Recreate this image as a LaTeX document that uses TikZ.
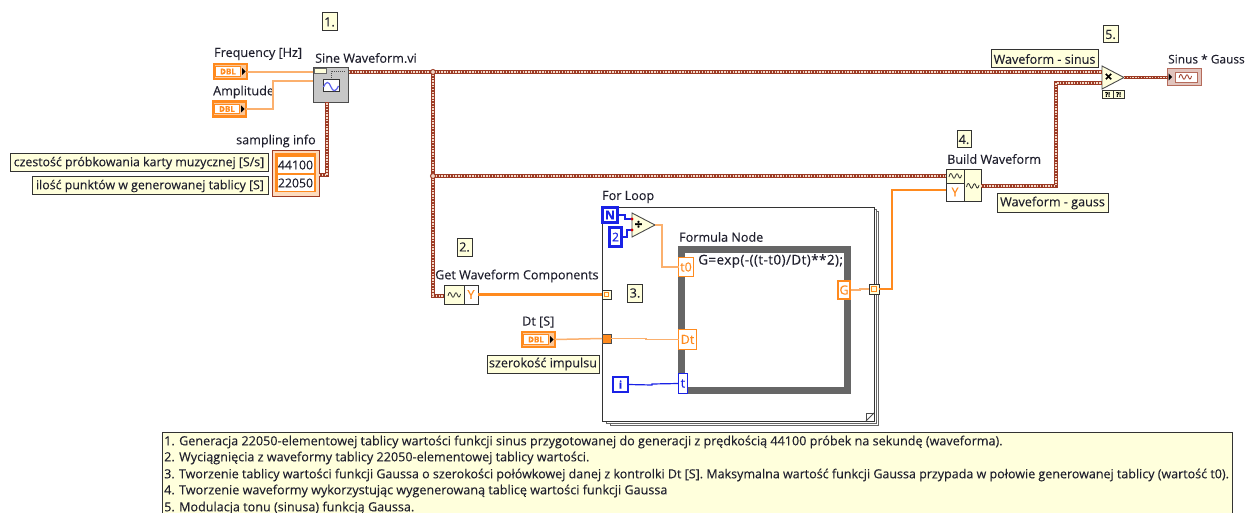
\documentclass[tikz,border=0pt]{standalone}
\usepackage{fontspec}
\setmainfont{Open Sans}[FakeBold=0.12]
\definecolor{txt}{HTML}{20202E}
\definecolor{orng}{HTML}{FF8A1E}
\definecolor{orngl}{HTML}{FBB06E}
\definecolor{wbrown}{HTML}{9C3A24}
\definecolor{wlight}{HTML}{F3D9C8}
\definecolor{blu}{HTML}{1A22E6}
\definecolor{note}{HTML}{FFFFDC}
\definecolor{edgeb}{HTML}{333333}
\tikzset{
  lab/.style={anchor=west,inner sep=0pt,text=txt,font=\fontsize{12.6}{14}\selectfont},
  yel/.style={draw=edgeb,line width=1pt,fill=note,text=txt,inner sep=0pt,outer sep=0pt,anchor=center,font=\fontsize{12.6}{14}\selectfont},
  yelnarrow/.style={yel,font=\fontsize{12.35}{14}\selectfont},
  oterm/.style={draw=orng,line width=1.4pt,fill=white,text=orng,inner sep=0pt,outer sep=0pt,anchor=center,font=\fontsize{12.5}{14}\selectfont},
  bterm/.style={draw=blu,line width=2.2pt,fill=white,text=blu,inner sep=0pt,outer sep=0pt,anchor=center,font=\bfseries\fontsize{12}{14}\selectfont},
  fnbox/.style={draw=edgeb,line width=.9pt,fill=note,inner sep=0pt,outer sep=0pt,anchor=center},
  wfm/.style={draw=wbrown,line width=3.6pt,postaction={draw=wlight,line width=1.3pt,dash pattern=on 1.4pt off 1.4pt}},
  othin/.style={draw=orngl,line width=1.5pt},
  othick/.style={draw=orng,line width=2.3pt},
  bthin/.style={draw=blu,line width=1.2pt},
  junc/.style={circle,draw=wbrown,line width=1pt,fill=wlight,minimum size=5pt,inner sep=0pt},
  wavey/.style={draw=#1,line width=.8pt,line join=round},
  fmframe/.style={draw=black!75,line width=1pt,fill=white},
  cellval/.style={fill=white,text=txt,inner sep=0pt,minimum width=36pt,minimum height=16pt,font=\fontsize{12.3}{14}\selectfont},
}
\newcommand{\dblctl}[3]{%
  \node[draw=orng,fill=orngl!70,line width=2.4pt,minimum width=33pt,minimum height=15pt,inner sep=0pt,outer sep=0pt] (#1) at (#2,#3) {};
  \node[draw=orng,fill=white,line width=1pt,minimum width=25pt,minimum height=9.5pt,inner sep=0pt,text=orng,font=\bfseries\fontsize{8}{9}\selectfont] at (#2-2.5,#3) {DBL};
  \fill[black] (#2+11.5,#3-3.5) -- (#2+15,#3) -- (#2+11.5,#3+3.5) -- cycle;
}
\newcommand{\wavesym}[3]{% x,y,colour
  \draw[wavey=#3] (#1-6,#2+1) .. controls (#1-5,#2-4) and (#1-3.5,#2-3) .. (#1-2.5,#2) .. controls (#1-1.5,#2+3) and (#1-.5,#2+3) .. (#1+.5,#2) .. controls (#1+1.5,#2-3) and (#1+2.5,#2-3) .. (#1+3.5,#2) .. controls (#1+4.5,#2+3) and (#1+5.5,#2+3) .. (#1+6.5,#2-1);
}
\begin{document}
\begin{tikzpicture}[x=1pt,y=-1pt]
\clip (0,0) rectangle (1252,513);
\fill[white] (0,0) rectangle (1252,513);

% For Loop frames
\draw[fmframe,draw=black!60] (610,211) rectangle (878,425);
\draw[fmframe,draw=black!60] (606,209) rectangle (876,423);
\node[draw=black!80,line width=1pt,fill=white,inner sep=0pt,outer sep=0pt,minimum width=272pt,minimum height=214pt,anchor=north west] (loop) at (602,207) {};
\draw[black!70,line width=.8pt] (874,413) -- (866,413) -- (866,421);
\draw[black!70,line width=.8pt] (866,421) -- (874,413);
\node[lab] (looplab) at (602,197) {For Loop};

% Formula Node
\node[draw=black!60,line width=7pt,fill=white,inner sep=0pt,outer sep=0pt,minimum width=166pt,minimum height=141pt,anchor=north west] (fnode) at (681.5,249.5) {};
\node[lab] (fnlab) at (679,237) {Formula Node};
\node[lab,font=\fontsize{13.5}{14}\selectfont\addfontfeature{LetterSpace=3}] (formula) at (698,261) {G=exp(-((t-t0)/Dt)**2);};

% Text labels and notes
\node[yel,minimum width=15pt,minimum height=18pt] (n1) at (329.5,22) {1.};
\node[yel,minimum width=15pt,minimum height=18pt] (n2) at (464.5,247) {2.};
\node[yel,minimum width=15pt,minimum height=18pt] (n3) at (635,293) {3.};
\node[yel,minimum width=14pt,minimum height=17pt] (n4) at (964,139.5) {4.};
\node[yel,minimum width=15pt,minimum height=17pt] (n5) at (1110.5,34.5) {5.};
\node[lab] (freqlab) at (214,54) {Frequency [Hz]};
\node[lab] (amplab) at (213,92) {Amplitude};
\node[lab] (sinelab) at (315,58) {Sine Waveform.vi};
\node[lab] (samplab) at (236,141) {sampling info};
\node[yelnarrow,minimum width=258pt,minimum height=18pt] (czest) at (139,163) {czestość próbkowania karty muzycznej [S/s]};
\node[yelnarrow,minimum width=236pt,minimum height=18pt] (ilosc) at (150,186) {ilość punktów w generowanej tablicy [S]};
\node[lab] (getlab) at (435,276) {Get Waveform Components};
\node[lab] (dtlab) at (522,322) {Dt [S]};
\node[yel,minimum width=112pt,minimum height=18pt] (szer) at (543,364) {szerokość impulsu};
\node[lab] (buildlab) at (947,159) {Build Waveform};
\node[yel,minimum width=111pt,minimum height=18pt] (wgauss) at (1052.5,203) {Waveform - gauss};
\node[yel,minimum width=107pt,minimum height=18pt] (wsinus) at (1044.5,59) {Waveform - sinus};
\node[lab,font=\fontsize{11.9}{14}\selectfont] (sgauss) at (1168,59) {Sinus * Gauss};

% Controls
\dblctl{freq}{230.5}{71.5}
\dblctl{amp}{229.5}{109}
\dblctl{dt}{538.5}{339.5}

% Sine Waveform VI
\node[draw=black!70,line width=1pt,fill=black!22,inner sep=0pt,outer sep=0pt,minimum width=35pt,minimum height=35pt,anchor=north west] (sine) at (313.5,67.5) {};
\fill[note,draw=black!60,line width=.5pt] (314.5,68.5) rectangle (326,73);
\draw[black!70,line width=.8pt,dash pattern=on 1pt off 1pt] (331,78) -- (331,71) -- (346,71);
\node[draw=black!80,fill=white,line width=1pt,minimum width=16pt,minimum height=12pt,inner sep=0pt] (sineicon) at (331,86) {};
\draw[blu!70,line width=1.2pt] (323.5,87) .. controls (326,81) and (329,81) .. (331,87) .. controls (333,92) and (336,92) .. (338.5,86);

% Sampling info cluster
\node[draw=wbrown,line width=.8pt,fill=orngl!45,inner sep=0pt,outer sep=0pt,minimum width=47pt,minimum height=46pt,anchor=north west] (samp) at (272,150) {};
\fill[orng] (275,153.5) rectangle (316,192.5);
\node[cellval] (v1) at (295.5,165) {44100};
\node[cellval] (v2) at (295.5,183) {22050};

% Get Waveform Components
\node[fnbox,minimum width=20pt,minimum height=19pt] (getw) at (454,294.5) {};
\node[draw=edgeb,line width=.9pt,fill=white,text=orng,inner sep=0pt,outer sep=0pt,minimum width=14pt,minimum height=19pt,font=\fontsize{12.5}{14}\selectfont] (gety) at (471,294.5) {Y};
\wavesym{454}{295}{black!80}

% For-loop terminals
\node[fnbox,minimum width=9pt,minimum height=9pt] (tunin) at (606.5,294.5) {};
\draw[orng,line width=.9pt] (604.5,292.5) rectangle (608.5,296.5);
\node[draw=black!70,line width=.8pt,fill=orng,inner sep=0pt,outer sep=0pt,minimum width=9pt,minimum height=9pt] (tundt) at (606.5,338.5) {};
\node[fnbox,minimum width=10pt,minimum height=10pt] (tunout) at (874,289) {};
\draw[orng,line width=.9pt] (871.5,286.5) rectangle (876.5,291.5);
\node[bterm,minimum width=15pt,minimum height=15pt] (nterm) at (610,215) {N};
\node[bterm,font=\fontsize{12}{14}\selectfont,minimum width=12pt,minimum height=19pt] (two) at (615.5,237) {2};
\node[bterm,minimum width=15pt,minimum height=15pt,font=\bfseries\fontsize{11}{13}\selectfont] (iterm) at (620.5,384.5) {i};

% Divide
\draw[draw=black!70,line width=.9pt,fill=note] (632,213) -- (655,225) -- (632,237) -- cycle;
\coordinate (divout) at (655,225);
\coordinate (diva) at (632,219);
\coordinate (divb) at (632,230);
\node[inner sep=0pt,text=black,font=\bfseries\fontsize{14}{15}\selectfont] (divsym) at (638.5,225) {÷};

% Formula terminals
\node[oterm,minimum width=15pt,minimum height=19pt] (t0) at (686,267) {t0};
\node[oterm,minimum width=18pt,minimum height=20pt] (dtin) at (687.5,339.5) {Dt};
\node[draw=blu,line width=1pt,fill=white,text=blu,inner sep=0pt,outer sep=0pt,minimum width=9pt,minimum height=20pt,font=\fontsize{12.5}{14}\selectfont] (tin) at (683,383.5) {t};
\node[draw=orng,line width=2pt,fill=white,text=orng,inner sep=0pt,outer sep=0pt,minimum width=12pt,minimum height=18pt,font=\fontsize{12.5}{14}\selectfont] (gout) at (844,290) {G};

% Build Waveform
\node[fnbox,minimum width=18pt,minimum height=14pt] (bw) at (955,176) {};
\node[draw=edgeb,line width=.9pt,fill=white,text=orng,inner sep=0pt,outer sep=0pt,minimum width=18pt,minimum height=18pt,font=\fontsize{12.5}{14}\selectfont] (by) at (955,192) {Y};
\node[fnbox,minimum width=17pt,minimum height=32pt] (bo) at (972.5,185) {};
\wavesym{955}{176}{black!80}
\wavesym{972.5}{186}{black!80}

% Multiply
\draw[draw=black!70,line width=.9pt,fill=note] (1102,66) -- (1124,77.5) -- (1102,89) -- cycle;
\coordinate (mulout) at (1124,77.5);
\coordinate (mula) at (1102,72);
\coordinate (mulb) at (1102,83);
\node[inner sep=0pt,text=black,font=\bfseries\fontsize{14}{15}\selectfont] (mulsym) at (1108.5,77.5) {×};
\node[fnbox,minimum width=11pt,minimum height=8.5pt,text=black,font=\bfseries\fontsize{6.5}{7}\selectfont] (q1) at (1107.5,94.5) {?!};
\node[fnbox,minimum width=11pt,minimum height=8.5pt,text=black,font=\bfseries\fontsize{6.5}{7}\selectfont] (q2) at (1118.5,94.5) {?!};

% Indicator
\node[draw=wbrown!75,fill=wbrown!30,line width=1.5pt,inner sep=0pt,outer sep=0pt,minimum width=34pt,minimum height=17pt] (ind) at (1184.5,77) {};
\fill[white,draw=wbrown!75,line width=.7pt] (1175,72) rectangle (1197,82);
\fill[black] (1168.5,73.5) -- (1172,77) -- (1168.5,80.5) -- cycle;
\wavesym{1185}{77}{wbrown}

% Wires: numeric data
\coordinate (sineA) at (313,72);
\coordinate (sineB) at (313,81);
\coordinate (sineC) at (349,72);
\coordinate (bwin) at (946,176);
\draw[othin] (freq.east |- sineA) -- (sineA);
\draw[othin] (amp.east) -- (273,109) -- (273,81) -- (sineB);
\draw[othin] (tundt.east) -- (646,338.5) -- (646,339.5) -- (dtin.west);
\draw[othin] (dt.east) -- (tundt.west);
\draw[othin] (divout) -- (662,225) -- (662,267) -- (t0.west);
\draw[othin] (gout.east) ++(1,0) -- (860,290) -- (860,289) -- (tunout.west);
\draw[othick] (gety.east) -- (tunin.west);
\draw[othick] (tunout.east) -- (892,289) -- (892,190) -- (by.west |- 0,190);
\draw[bthin] (nterm.east) -- (625,215) -- (625,219) -- (diva);
\draw[bthin] (two.east) -- (627,237) -- (627,230) -- (divb);
\draw[bthin] (iterm.east) -- (652,385) -- (652,384) -- (tin.west);
\fill[red!85!black] (diva) circle (1.6pt) (divb) circle (1.6pt);

% Wires: waveform data
\coordinate (j1) at (433,72);
\coordinate (j2) at (433,176);
\draw[wfm] (sineC) -- (mula);
\draw[wfm] (j1) -- (433,296) -- (getw.west |- 0,296);
\draw[wfm] (j2) -- (bw.west);
\draw[wfm] (samp.east |- 0,175) -- (327,175) -- (sine.south -| 327,0);
\draw[wfm] (bo.east |- 0,186) -- (1056,186) -- (1056,83) -- (mulb);
\draw[wfm] (mulout) -- (ind.west |- mulout);
\node[junc] (jn1) at (j1) {};
\node[junc] (jn2) at (j2) {};

% Bottom description
\node[draw=edgeb,line width=1pt,fill=note,inner sep=0pt,outer sep=0pt,minimum width=1069.5pt,minimum height=90pt,anchor=north west] (desc) at (162.5,432.5) {};
\foreach \nm/\yy/\tx in {
 d1/442/{1. Generacja 22050-elementowej tablicy wartości funkcji sinus przygotowanej do generacji z prędkością 44100 próbek na sekundę (waveforma).},
 d2/458/{2. Wyciągnięcia z waveformy tablicy 22050-elementowej tablicy wartości.},
 d3/475/{\fontsize{12.5}{14}\selectfont 3. Tworzenie tablicy wartości funkcji Gaussa o szerokości połówkowej danej z kontrolki Dt [S]. Maksymalna wartość funkcji Gaussa przypada w połowie generowanej tablicy (wartość t0).},
 d4/491/{4. Tworzenie waveformy wykorzystując wygenerowaną tablicę wartości funkcji Gaussa},
 d5/508/{5. Modulacja tonu (sinusa) funkcją Gaussa.}}
 {\node[lab] (\nm) at (164,\yy) {\tx};}
\end{tikzpicture}
\end{document}
